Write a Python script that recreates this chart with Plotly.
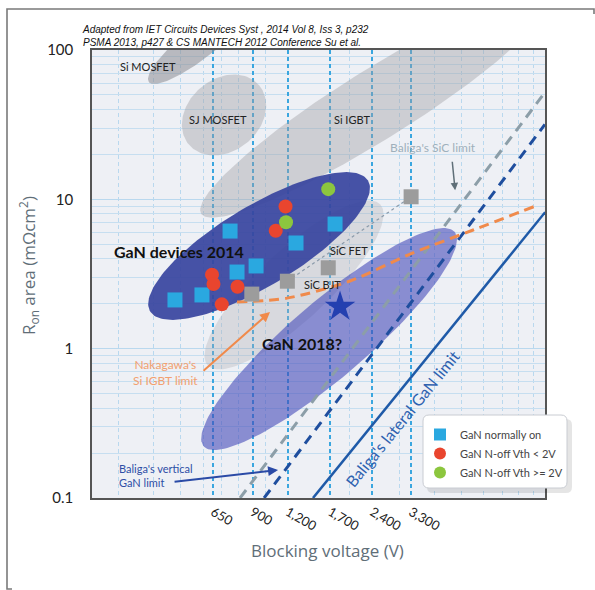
import math
import numpy as np
import plotly.graph_objects as go

# ---------------- data ----------------
x_tick_vals = [650, 900, 1200, 1700, 2400, 3300]
x_tick_text = ["650", "900", "1,200", "1,700", "2,400", "3,300"]
y_tick_vals = [0.1, 1, 10, 100]
y_tick_text = ["0.1", "1", "10", "100"]

normally_on_v = [476, 594, 748, 792, 926, 1285, 1770]
normally_on_r = [2.12, 2.29, 6.13, 3.26, 3.58, 5.10, 6.83]

noff_low_v = [1179, 1088, 645, 653, 795, 699]
noff_low_r = [8.95, 6.16, 3.13, 2.71, 2.60, 1.98]

noff_high_v = [1674, 1184]
noff_high_r = [11.7, 7.02]

sic_dev_v = [894, 1197, 1674, 3303]
sic_dev_r = [2.32, 2.83, 3.48, 10.4]

sic_trend_v = [1197, 3303]
sic_trend_r = [2.83, 10.4]

gan2018_v = [1844]
gan2018_r = [1.91]

sic_limit_v = [812, 9900]
sic_limit_r = [0.1, 52.0]
gan_vert_limit_v = [989, 9900]
gan_vert_limit_r = [0.1, 31.7]
gan_lat_limit_v = [1477, 9920]
gan_lat_limit_r = [0.1, 8.2]
nakagawa_v = [792, 1194, 2002, 3276, 5494, 9365]
nakagawa_r = [2.05, 2.18, 2.84, 4.30, 6.23, 9.16]

# device regions: centre V, centre R, semi-axes (decades on screen), tilt (deg)
region_names = ["Si MOSFET", "SJ MOSFET", "Si IGBT", "SiC", "GaN 2014", "GaN 2018"]
region_v = [585, 712, 2458, 1264, 949, 1685]
region_r = [113, 36.7, 42.8, 2.67, 4.87, 1.16]
region_a = [0.435, 0.308, 1.373, 0.790, 0.851, 1.105]
region_b = [0.107, 0.241, 0.234, 0.234, 0.268, 0.255]
region_ang = [38, 40, 32, 43, 31, 40.5]

# ---------------- layout geometry ----------------
W, H = 595, 590
ML, MR, MT, MB = 92, 50, 50, 92
XR = [2.382, 3.996]
YR = [-1, 2]
PW, PH = W - ML - MR, H - MT - MB
PX_X = PW / (XR[1] - XR[0])
PX_Y = PH / (YR[1] - YR[0])

FONT = "Lato, Open Sans, sans-serif"
TFONT = "Open Sans, sans-serif"
lg = math.log10


def ellipse(vc, rc, a, b, ang, n=160):
    t = np.linspace(0, 2 * np.pi, n)
    th = np.radians(ang)
    du, dv = a * np.cos(t), b * np.sin(t)
    dx = du * np.cos(th) - dv * np.sin(th)
    dy = du * np.sin(th) + dv * np.cos(th)
    X = lg(vc) + dx * PX_Y / PX_X
    Y = lg(rc) + dy
    return 10 ** X, 10 ** Y


region_fill = [
    "rgba(140,140,145,0.55)",
    "rgba(160,160,165,0.42)",
    "rgba(160,160,165,0.42)",
    "rgba(175,175,180,0.35)",
    "rgba(55,68,158,0.92)",
    "rgba(70,75,185,0.6)",
]

fig = go.Figure()

for i in range(len(region_names)):
    ex, ey = ellipse(region_v[i], region_r[i], region_a[i], region_b[i], region_ang[i])
    fig.add_trace(go.Scatter(x=ex, y=ey, mode="lines", fill="toself",
                             fillcolor=region_fill[i], line=dict(width=0),
                             showlegend=False, hoverinfo="skip"))

# limit lines
fig.add_trace(go.Scatter(x=sic_limit_v, y=sic_limit_r, mode="lines",
                         line=dict(color="#8c9ea8", width=3, dash="10px,7px"),
                         showlegend=False))
fig.add_trace(go.Scatter(x=gan_vert_limit_v, y=gan_vert_limit_r, mode="lines",
                         line=dict(color="#1f4e9e", width=3, dash="10px,7px"),
                         showlegend=False))
fig.add_trace(go.Scatter(x=gan_lat_limit_v, y=gan_lat_limit_r, mode="lines",
                         line=dict(color="#1f5aa8", width=2.5),
                         showlegend=False))
fig.add_trace(go.Scatter(x=nakagawa_v, y=nakagawa_r, mode="lines",
                         line=dict(color="#f08a4b", width=3, dash="10px,6px",
                                   shape="spline", smoothing=0.8),
                         showlegend=False))
fig.add_trace(go.Scatter(x=sic_trend_v, y=sic_trend_r, mode="lines",
                         line=dict(color="#8a9aaa", width=1.2, dash="dot"),
                         showlegend=False))

# devices
fig.add_trace(go.Scatter(x=sic_dev_v, y=sic_dev_r, mode="markers",
                         marker=dict(symbol="square", size=15, color="#9c9c9c"),
                         showlegend=False))
fig.add_trace(go.Scatter(x=normally_on_v, y=normally_on_r, mode="markers",
                         name="GaN normally on",
                         marker=dict(symbol="square", size=15, color="#2aa8e0")))
fig.add_trace(go.Scatter(x=noff_low_v, y=noff_low_r, mode="markers",
                         name="GaN N-off Vth < 2V",
                         marker=dict(symbol="circle", size=14, color="#e9452e")))
fig.add_trace(go.Scatter(x=noff_high_v, y=noff_high_r, mode="markers",
                         name="GaN N-off Vth >= 2V",
                         marker=dict(symbol="circle", size=14, color="#8cc63e")))
fig.add_trace(go.Scatter(x=gan2018_v, y=gan2018_r, mode="markers",
                         marker=dict(symbol="star", size=23, color="#2440b0"),
                         showlegend=False))

minor_x = [300, 400, 500, 600, 700, 800, 1000, 2000, 3000, 4000, 5000, 6000, 7000, 8000, 9000]
minor_y = [0.2, 0.3, 0.4, 0.5, 0.6, 0.7, 0.8, 0.9, 2, 3, 4, 5, 6, 7, 8, 9,
           20, 30, 40, 50, 60, 70, 80, 90]

fig.update_xaxes(type="log", range=XR, tickmode="array", tickvals=x_tick_vals,
                 ticktext=x_tick_text, tickangle=30,
                 tickfont=dict(family=FONT, size=13, color="#222"),
                 showgrid=True, gridcolor="#3aa6df", gridwidth=1.5, griddash="4px,3px",
                 minor=dict(tickmode="array", tickvals=minor_x, showgrid=True,
                            gridcolor="#b9d8ee", gridwidth=1),
                 showline=True, mirror=True, linecolor="#555", linewidth=1.5,
                 ticks="", zeroline=False)
fig.update_yaxes(type="log", range=YR, tickmode="array", tickvals=y_tick_vals,
                 ticktext=y_tick_text,
                 tickfont=dict(family=FONT, size=15, color="#222"),
                 showgrid=True, gridcolor="#b9d8ee", gridwidth=1,
                 minor=dict(tickmode="array", tickvals=minor_y, showgrid=True,
                            gridcolor="#c6def0", gridwidth=1),
                 showline=True, mirror=True, linecolor="#555", linewidth=1.5,
                 ticks="", ticklabelstandoff=14, zeroline=False)


def px(xp):
    return (xp - ML) / PW


def py(yp):
    return (H - MB - yp) / PH


def rounded_rect(x0, y0, x1, y1, r):
    rx, ry = r / PW, r / PH
    X0, X1, Y0, Y1 = px(x0), px(x1), py(y1), py(y0)
    return (f"M{X0+rx},{Y0} L{X1-rx},{Y0} Q{X1},{Y0} {X1},{Y0+ry} "
            f"L{X1},{Y1-ry} Q{X1},{Y1} {X1-rx},{Y1} L{X0+rx},{Y1} "
            f"Q{X0},{Y1} {X0},{Y1-ry} L{X0},{Y0+ry} Q{X0},{Y0} {X0+rx},{Y0} Z")


shapes = [
    dict(type="line", xref="paper", yref="y", x0=0, x1=1, y0=0, y1=0,
         line=dict(color="#e8b79c", width=1.2), layer="below"),
    # page frame (same geometry that rendered its top edge earlier)
    dict(type="rect", xref="paper", yref="paper",
         x0=px(7), x1=px(594), y0=py(589), y1=py(9),
         line=dict(color="#7a7a7a", width=1.6), fillcolor="rgba(0,0,0,0)",
         layer="below"),
    # hide the frame's right and bottom edges (not in the reference)
    dict(type="line", xref="paper", yref="paper", x0=px(594), x1=px(594),
         y0=py(595), y1=py(14), line=dict(color="white", width=4), layer="below"),
    dict(type="line", xref="paper", yref="paper", x0=px(12), x1=px(600),
         y0=py(589), y1=py(589), line=dict(color="white", width=4), layer="below"),
    dict(type="path", xref="paper", yref="paper", path=rounded_rect(427, 419, 572, 493, 6),
         fillcolor="rgba(0,0,0,0.10)", line=dict(width=0), layer="above"),
    dict(type="path", xref="paper", yref="paper", path=rounded_rect(423, 415, 567, 488, 6),
         fillcolor="white", line=dict(color="#c9ccd2", width=1), layer="above"),
]

ann = []


def label(text, v, r, size=11, color="#222", bold=False, **kw):
    t = f"<b>{text}</b>" if bold else text
    ann.append(dict(x=lg(v), y=lg(r), xref="x", yref="y", text=t, showarrow=False,
                    font=dict(family=FONT, size=size, color=color), **kw))


label("Si MOSFET", 381, 78)
label("SJ MOSFET", 678, 34)
label("Si IGBT", 2035, 34)
label("SiC FET", 1987, 4.57)
label("SiC BJT", 1591, 2.67)
label("GaN devices 2014", 492, 4.44, size=16, color="#111", bold=True)
label("GaN 2018?", 1350, 1.09, size=16, color="#111", bold=True)
label("Baliga's lateral GaN limit", 3068, 0.343, size=16, color="#2f62b0", textangle=-51)

# arrowed notes
ann.append(dict(x=lg(4740), y=lg(11.5), xref="x", yref="y", ax=-3, ay=-30,
                showarrow=True, arrowhead=2, arrowsize=1, arrowwidth=1.5, arrowcolor="#5f6f78",
                text=""))
label("Baliga's SiC limit", 3957, 22.1, size=12, color="#9fb0bc")
ann.append(dict(x=lg(1038), y=lg(1.76), xref="x", yref="y", ax=-68, ay=60,
                showarrow=True, arrowhead=2, arrowsize=1, arrowwidth=2, arrowcolor="#f08a4b",
                text=""))
label("Nakagawa's<br>Si IGBT limit", 439, 0.697, size=12, color="#f2a070")
ann.append(dict(x=lg(1109), y=lg(0.154), xref="x", yref="y", ax=-105, ay=12,
                showarrow=True, arrowhead=2, arrowsize=1, arrowwidth=2, arrowcolor="#2a4aa6",
                text=""))
label("Baliga's vertical<br>GaN limit", 407, 0.142, size=11, color="#2d4ea6", align="left")

# source note and axis titles
ann.append(dict(x=px(80), y=py(36), xref="paper", yref="paper", xanchor="left", yanchor="middle",
                text="<i>Adapted from IET Circuits Devices Syst , 2014 Vol 8, Iss 3, p232<br>"
                     "PSMA 2013, p427 & CS MANTECH 2012 Conference Su et al.</i>",
                showarrow=False, align="left",
                font=dict(family="Liberation Sans, sans-serif", size=10, color="#111")))
ann.append(dict(x=px(327), y=py(550), xref="paper", yref="paper",
                xanchor="center", yanchor="middle",
                text="Blocking voltage (V)", showarrow=False,
                font=dict(family=TFONT, size=17, color="#5f6e78")))
ann.append(dict(x=px(28), y=py(266), xref="paper", yref="paper", textangle=-90,
                xanchor="center", yanchor="middle",
                text="R<sub>on</sub> area (mΩcm<sup>2</sup>)", showarrow=False,
                font=dict(family=TFONT, size=17, color="#5f6e78")))

fig.update_layout(
    width=W, height=H, margin=dict(l=ML, r=MR, t=MT, b=MB),
    paper_bgcolor="white", plot_bgcolor="#eef0f5",
    shapes=shapes, annotations=ann,
    legend=dict(x=px(420), y=py(420), xanchor="left", yanchor="top",
                bgcolor="rgba(0,0,0,0)", borderwidth=0,
                font=dict(family=FONT, size=11, color="#444"),
                itemsizing="constant"),
)

fig.write_html("out.html", config={"displayModeBar": False},
               post_script="document.body.style.margin='0px';")
